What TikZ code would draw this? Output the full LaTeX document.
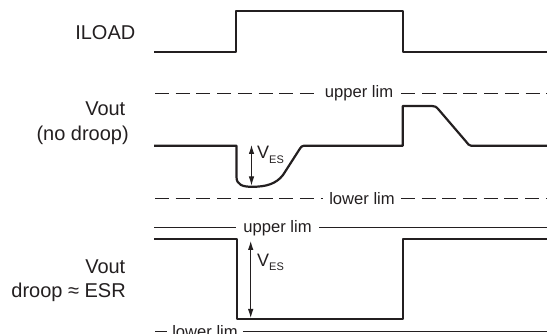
\documentclass[tikz,border=0pt]{standalone}
\usepackage{fontspec}
\setmainfont{Liberation Sans}
\usetikzlibrary{arrows.meta}
\definecolor{ink}{RGB}{35,31,32}
\begin{document}
\begin{tikzpicture}[x=1pt,y=-1pt,
  lbl/.style={anchor=base east,inner sep=0pt,font=\fontsize{20}{24}\selectfont,text=ink},
  lim/.style={inner ysep=0pt,font=\fontsize{16.6}{20}\selectfont,text=ink},
  wave/.style={draw=ink,line width=2.2pt,line join=round},
  limline/.style={draw=ink,line width=0.9pt},
  dashline/.style={limline,dash pattern=on 14pt off 6.7pt},
  ves/.style={draw=ink,line width=0.9pt,{Latex[length=9pt,width=5.5pt]}-{Latex[length=9pt,width=5.5pt]}},
  vlbl/.style={anchor=base west,inner sep=0pt,text=ink}]
\useasboundingbox (0,0) rectangle (547,334);

% labels
\node[lbl] (iload) at (135.5,39.3) {ILOAD};
\node[lbl] (vout1) at (125.5,115.7) {Vout};
\node[lbl] (nodroop) at (129,140.2) {(no droop)};
\node[lbl] (vout2) at (125.5,273.2) {Vout};
\node[lbl] (droop) at (126,297.3) {droop ≈ ESR};

% ILOAD waveform
\draw[wave] (154,51.7) -- (236,51.7) -- (236,10.7) -- (402.7,10.7) -- (402.7,52) -- (547,52);

% limits (no droop)
\coordinate (u1s) at (155,93.3);
\coordinate (u1e) at (547,93.3);
\node[lim,inner xsep=8pt] (u1) at (359,93.3) {upper lim};
\draw[dashline] (u1s) -- (u1.west);
\draw[dashline] (u1.east) -- (u1e);

\coordinate (l1s) at (155,198.3);
\coordinate (l1e) at (547,198.3);
\node[lim,inner xsep=6pt] (l1) at (362,198.3) {lower lim};
\draw[dashline] (l1s) -- (l1.west);
\draw[dashline] (l1.east) -- (l1e);

% Vout no droop waveform
\draw[wave] (154,145.7) -- (236.5,145.7) -- (236.5,177)
  .. controls (236.5,185) and (243,186.8) .. (252,186.8)
  .. controls (266,186.8) and (276,184) .. (283,175)
  -- (300,148.5) .. controls (301,147) and (302,145.7) .. (304,145.7)
  -- (402.7,145.7) -- (402.7,106) -- (432,106)
  .. controls (435,106) and (436,106.5) .. (439,110)
  -- (466,141.5) .. controls (468,144) and (469,145.7) .. (471,145.7)
  -- (547,145.7);

\coordinate (a1t) at (251.5,145);
\coordinate (a1b) at (251.5,185.5);
\draw[ves] (a1t) -- (a1b);
\node[vlbl] (v1) at (257,159) {{\fontsize{18}{18}\selectfont V}\raisebox{-4.3pt}{\fontsize{11}{11}\selectfont ES}};

% limits (droop)
\coordinate (u2s) at (154,227.9);
\coordinate (u2e) at (547,227.9);
\node[lim,inner xsep=7.5pt] (u2) at (277.5,227.9) {upper lim};
\draw[limline] (u2s) -- (u2.west);
\draw[limline] (u2.east) -- (u2e);

\coordinate (l2s) at (155,331.3);
\coordinate (l2e) at (547,331.3);
\node[lim,inner xsep=5pt] (l2) at (205,331.3) {lower lim};
\draw[limline] (l2s) -- (l2.west);
\draw[limline] (l2.east) -- (l2e);

% Vout droop waveform
\draw[wave] (154,239.3) -- (237.3,239.3) -- (237.3,319.3) -- (403.3,319.3) -- (403.3,239.3) -- (547,239.3);

\coordinate (a2t) at (250.7,241);
\coordinate (a2b) at (250.7,318);
\draw[ves] (a2t) -- (a2b);
\node[vlbl] (v2) at (257,266.7) {{\fontsize{18}{18}\selectfont V}\raisebox{-4.3pt}{\fontsize{11}{11}\selectfont ES}};
\end{tikzpicture}
\end{document}
